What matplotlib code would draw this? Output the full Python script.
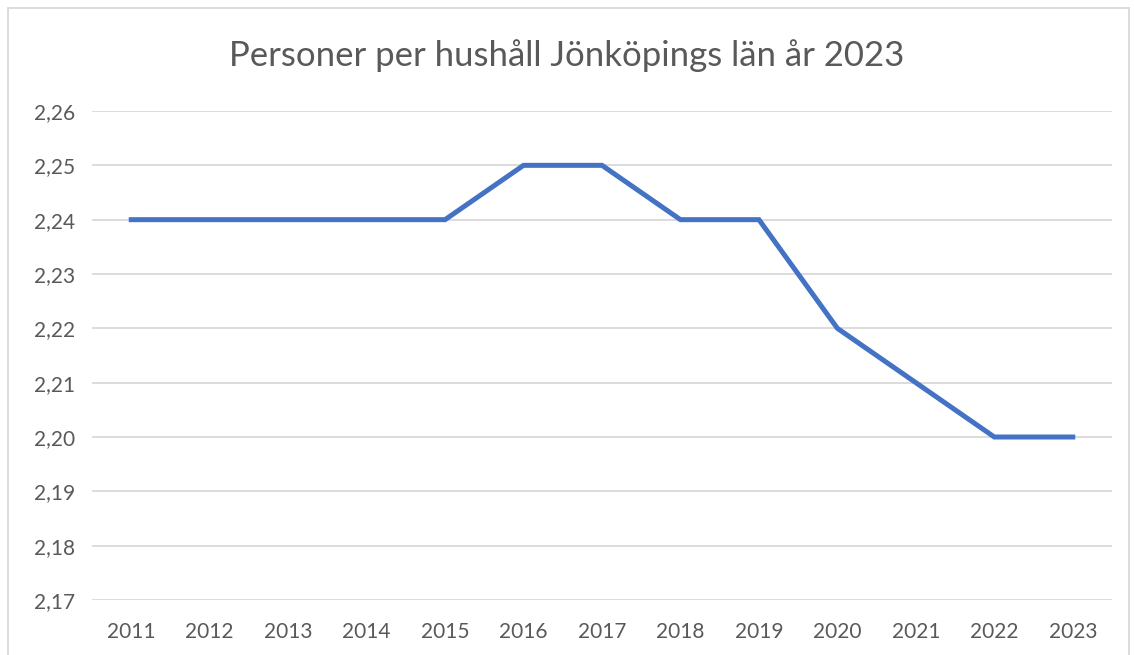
import matplotlib.pyplot as plt
from matplotlib.patches import Rectangle

years = ['2011', '2012', '2013', '2014', '2015', '2016', '2017',
         '2018', '2019', '2020', '2021', '2022', '2023']
persons_per_household = [2.24, 2.24, 2.24, 2.24, 2.24, 2.25, 2.25,
                         2.24, 2.24, 2.22, 2.21, 2.20, 2.20]
y_ticks = [2.17, 2.18, 2.19, 2.20, 2.21, 2.22, 2.23, 2.24, 2.25, 2.26]

plt.rcParams['font.family'] = ['Lato', 'DejaVu Sans']

fig = plt.figure(figsize=(11.34, 6.55), dpi=100)
ax = fig.add_axes([92 / 1134, 1 - 600 / 655, 1020 / 1134, 489 / 655])

x = list(range(len(years)))
ax.plot(x, persons_per_household, color='#4472C4', linewidth=3.6,
        solid_joinstyle='miter', zorder=3)

ax.set_xlim(-0.5, len(years) - 0.5)
ax.set_ylim(y_ticks[0], y_ticks[-1])
ax.set_xticks(x)
ax.set_xticklabels(years)
ax.set_yticks(y_ticks)
ax.set_yticklabels([f'{v:.2f}'.replace('.', ',') for v in y_ticks])

ax.grid(axis='y', color='#D9D9D9', linewidth=1.3)
ax.set_axisbelow(True)
for s in ax.spines.values():
    s.set_visible(False)
ax.tick_params(length=0, labelsize=15, colors='#595959')
ax.tick_params(axis='x', pad=16)
ax.tick_params(axis='y', pad=12)

fig.text(0.5, 1 - 56 / 655, 'Personer per hushåll Jönköpings län år 2023',
         ha='center', va='center', fontsize=25, color='#595959')

# outer chart border
fig.patches.append(Rectangle((8 / 1134, -0.01), 1121 / 1134, 1 - 8 / 655 + 0.01,
                             transform=fig.transFigure, fill=False,
                             edgecolor='#D9D9D9', linewidth=1.3))

fig.savefig('out.png', dpi=100)
